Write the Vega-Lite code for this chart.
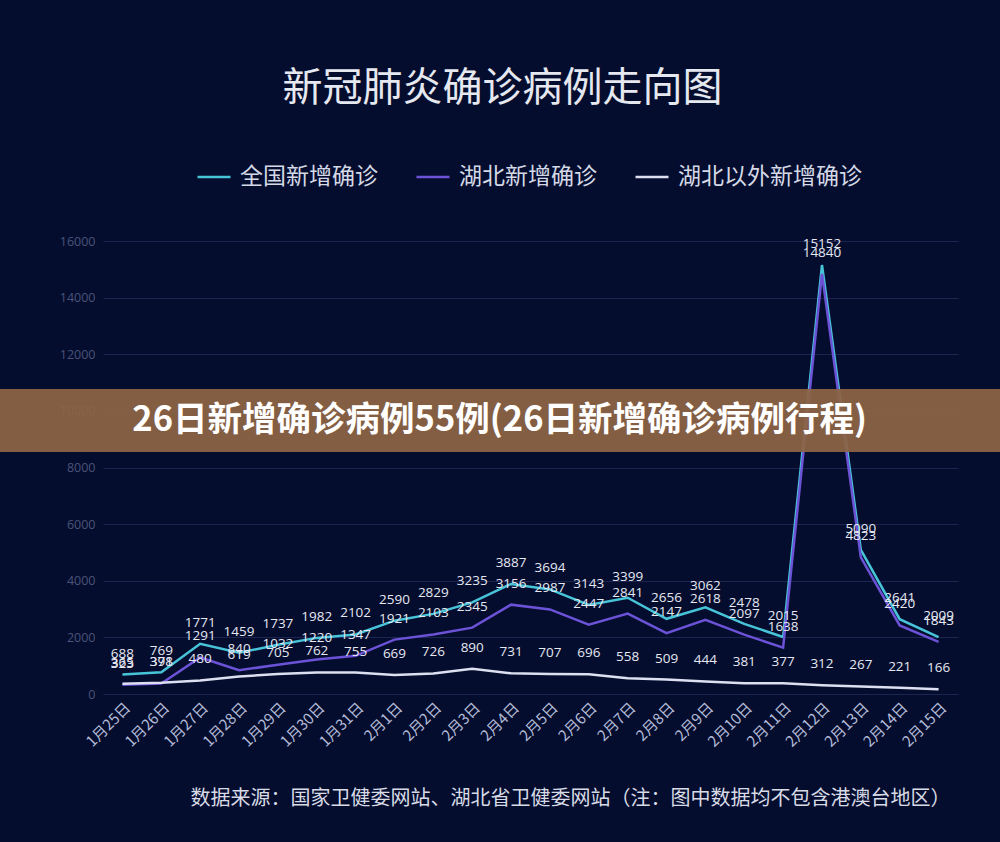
{
  "$schema": "https://vega.github.io/schema/vega-lite/v6.json",
  "width": 855,
  "height": 453,
  "autosize": {"type": "none"},
  "padding": {"left": 103, "top": 241, "right": 42, "bottom": 148},
  "background": "#040d2e",
  "title": {
    "text": "新冠肺炎确诊病例走向图",
    "frame": "group",
    "anchor": "middle",
    "dx": -28,
    "offset": 50,
    "font": "Noto Sans CJK SC",
    "fontSize": 40,
    "fontWeight": "normal",
    "color": "#e6e8f0"
  },
  "config": {
    "view": {"stroke": null},
    "axis": {"domain": false, "ticks": false}
  },
  "data": {
    "values": [
      {"d": "2020-01-25", "s": "全国新增确诊", "v": 688},
      {"d": "2020-01-26", "s": "全国新增确诊", "v": 769},
      {"d": "2020-01-27", "s": "全国新增确诊", "v": 1771},
      {"d": "2020-01-28", "s": "全国新增确诊", "v": 1459},
      {"d": "2020-01-29", "s": "全国新增确诊", "v": 1737},
      {"d": "2020-01-30", "s": "全国新增确诊", "v": 1982},
      {"d": "2020-01-31", "s": "全国新增确诊", "v": 2102},
      {"d": "2020-02-01", "s": "全国新增确诊", "v": 2590},
      {"d": "2020-02-02", "s": "全国新增确诊", "v": 2829},
      {"d": "2020-02-03", "s": "全国新增确诊", "v": 3235},
      {"d": "2020-02-04", "s": "全国新增确诊", "v": 3887},
      {"d": "2020-02-05", "s": "全国新增确诊", "v": 3694},
      {"d": "2020-02-06", "s": "全国新增确诊", "v": 3143},
      {"d": "2020-02-07", "s": "全国新增确诊", "v": 3399},
      {"d": "2020-02-08", "s": "全国新增确诊", "v": 2656},
      {"d": "2020-02-09", "s": "全国新增确诊", "v": 3062},
      {"d": "2020-02-10", "s": "全国新增确诊", "v": 2478},
      {"d": "2020-02-11", "s": "全国新增确诊", "v": 2015},
      {"d": "2020-02-12", "s": "全国新增确诊", "v": 15152},
      {"d": "2020-02-13", "s": "全国新增确诊", "v": 5090},
      {"d": "2020-02-14", "s": "全国新增确诊", "v": 2641},
      {"d": "2020-02-15", "s": "全国新增确诊", "v": 2009},
      {"d": "2020-01-25", "s": "湖北新增确诊", "v": 323},
      {"d": "2020-01-26", "s": "湖北新增确诊", "v": 371},
      {"d": "2020-01-27", "s": "湖北新增确诊", "v": 1291},
      {"d": "2020-01-28", "s": "湖北新增确诊", "v": 840},
      {"d": "2020-01-29", "s": "湖北新增确诊", "v": 1032},
      {"d": "2020-01-30", "s": "湖北新增确诊", "v": 1220},
      {"d": "2020-01-31", "s": "湖北新增确诊", "v": 1347},
      {"d": "2020-02-01", "s": "湖北新增确诊", "v": 1921},
      {"d": "2020-02-02", "s": "湖北新增确诊", "v": 2103},
      {"d": "2020-02-03", "s": "湖北新增确诊", "v": 2345},
      {"d": "2020-02-04", "s": "湖北新增确诊", "v": 3156},
      {"d": "2020-02-05", "s": "湖北新增确诊", "v": 2987},
      {"d": "2020-02-06", "s": "湖北新增确诊", "v": 2447},
      {"d": "2020-02-07", "s": "湖北新增确诊", "v": 2841},
      {"d": "2020-02-08", "s": "湖北新增确诊", "v": 2147},
      {"d": "2020-02-09", "s": "湖北新增确诊", "v": 2618},
      {"d": "2020-02-10", "s": "湖北新增确诊", "v": 2097},
      {"d": "2020-02-11", "s": "湖北新增确诊", "v": 1638},
      {"d": "2020-02-12", "s": "湖北新增确诊", "v": 14840},
      {"d": "2020-02-13", "s": "湖北新增确诊", "v": 4823},
      {"d": "2020-02-14", "s": "湖北新增确诊", "v": 2420},
      {"d": "2020-02-15", "s": "湖北新增确诊", "v": 1843},
      {"d": "2020-01-25", "s": "湖北以外新增确诊", "v": 365},
      {"d": "2020-01-26", "s": "湖北以外新增确诊", "v": 398},
      {"d": "2020-01-27", "s": "湖北以外新增确诊", "v": 480},
      {"d": "2020-01-28", "s": "湖北以外新增确诊", "v": 619},
      {"d": "2020-01-29", "s": "湖北以外新增确诊", "v": 705},
      {"d": "2020-01-30", "s": "湖北以外新增确诊", "v": 762},
      {"d": "2020-01-31", "s": "湖北以外新增确诊", "v": 755},
      {"d": "2020-02-01", "s": "湖北以外新增确诊", "v": 669},
      {"d": "2020-02-02", "s": "湖北以外新增确诊", "v": 726},
      {"d": "2020-02-03", "s": "湖北以外新增确诊", "v": 890},
      {"d": "2020-02-04", "s": "湖北以外新增确诊", "v": 731},
      {"d": "2020-02-05", "s": "湖北以外新增确诊", "v": 707},
      {"d": "2020-02-06", "s": "湖北以外新增确诊", "v": 696},
      {"d": "2020-02-07", "s": "湖北以外新增确诊", "v": 558},
      {"d": "2020-02-08", "s": "湖北以外新增确诊", "v": 509},
      {"d": "2020-02-09", "s": "湖北以外新增确诊", "v": 444},
      {"d": "2020-02-10", "s": "湖北以外新增确诊", "v": 381},
      {"d": "2020-02-11", "s": "湖北以外新增确诊", "v": 377},
      {"d": "2020-02-12", "s": "湖北以外新增确诊", "v": 312},
      {"d": "2020-02-13", "s": "湖北以外新增确诊", "v": 267},
      {"d": "2020-02-14", "s": "湖北以外新增确诊", "v": 221},
      {"d": "2020-02-15", "s": "湖北以外新增确诊", "v": 166}
    ]
  },
  "layer": [
    {
      "mark": {"type": "line", "strokeWidth": 2.5},
      "encoding": {
        "x": {
          "field": "d",
          "type": "temporal",
          "scale": {
            "type": "utc",
            "domain": [
              {"year": 2020, "month": 1, "date": 24, "hours": 12, "utc": true},
              {"year": 2020, "month": 2, "date": 15, "hours": 12, "utc": true}
            ]
          },
          "axis": {
            "tickCount": {"interval": "day", "step": 1},
            "labelExpr": "(utcmonth(datum.value) + 1) + '月' + utcdate(datum.value) + '日'",
            "labelOverlap": false,
            "labelBound": false,
            "labelAngle": -45,
            "labelFont": "Noto Sans CJK SC",
            "labelFontSize": 15,
            "labelColor": "#b3bbd8",
            "labelPadding": 6,
            "grid": false,
            "title": "数据来源：国家卫健委网站、湖北省卫健委网站（注：图中数据均不包含港澳台地区）",
            "titleFont": "Noto Sans CJK SC",
            "titleFontSize": 20,
            "titleFontWeight": "normal",
            "titleColor": "#d8dbe6",
            "titleX": 467,
            "titleY": 104,
            "titleAlign": "center",
            "titleBaseline": "middle"
          }
        },
        "y": {
          "field": "v",
          "type": "quantitative",
          "scale": {"domain": [0, 16000], "nice": false},
          "axis": {
            "values": [0, 2000, 4000, 6000, 8000, 10000, 12000, 14000, 16000],
            "format": "d",
            "title": null,
            "grid": true,
            "gridColor": "#1c2552",
            "gridWidth": 1,
            "labelFont": "Open Sans",
            "labelFontSize": 12.5,
            "labelColor": "#4a5379",
            "labelPadding": 8
          }
        },
        "color": {
          "field": "s",
          "type": "nominal",
          "scale": {
            "domain": ["全国新增确诊", "湖北新增确诊", "湖北以外新增确诊"],
            "range": ["#48c4d8", "#6c52d6", "#dde0f0"]
          },
          "legend": {
            "title": null,
            "orient": "none",
            "direction": "horizontal",
            "legendX": 93,
            "legendY": -82,
            "padding": 0,
            "symbolType": "stroke",
            "symbolSize": 1089,
            "symbolStrokeWidth": 2.5,
            "labelFont": "Noto Sans CJK SC",
            "labelFontSize": 23,
            "labelColor": "#d5d9e6",
            "labelOffset": 8,
            "labelLimit": 400,
            "columnPadding": 33
          }
        }
      }
    },
    {
      "mark": {
        "type": "text",
        "dy": -21,
        "font": "Open Sans",
        "fontSize": 13.5,
        "color": "#e6e8f2"
      },
      "encoding": {
        "x": {"field": "d", "type": "temporal"},
        "y": {"field": "v", "type": "quantitative"},
        "text": {"field": "v", "type": "quantitative", "format": "d"}
      }
    },
    {
      "data": {"values": [{"label": "26日新增确诊病例55例(26日新增确诊病例行程)"}]},
      "mark": {"type": "rect", "color": "#8c6445", "opacity": 0.94},
      "encoding": {
        "x": {"datum": {"year": 2020, "month": 1, "date": 20, "utc": true}, "type": "temporal"},
        "x2": {"datum": {"year": 2020, "month": 2, "date": 19, "utc": true}},
        "y": {"datum": 10773, "type": "quantitative"},
        "y2": {"datum": 8547}
      }
    },
    {
      "data": {"values": [{"label": "26日新增确诊病例55例(26日新增确诊病例行程)"}]},
      "mark": {
        "type": "text",
        "font": "Noto Sans CJK SC",
        "fontSize": 34.5,
        "fontWeight": "bold",
        "color": "#ffffff",
        "align": "center",
        "baseline": "middle"
      },
      "encoding": {
        "x": {"datum": {"year": 2020, "month": 2, "date": 3, "hours": 17, "utc": true}, "type": "temporal"},
        "y": {"datum": 9643, "type": "quantitative"},
        "text": {"field": "label", "type": "nominal"}
      }
    }
  ]
}
